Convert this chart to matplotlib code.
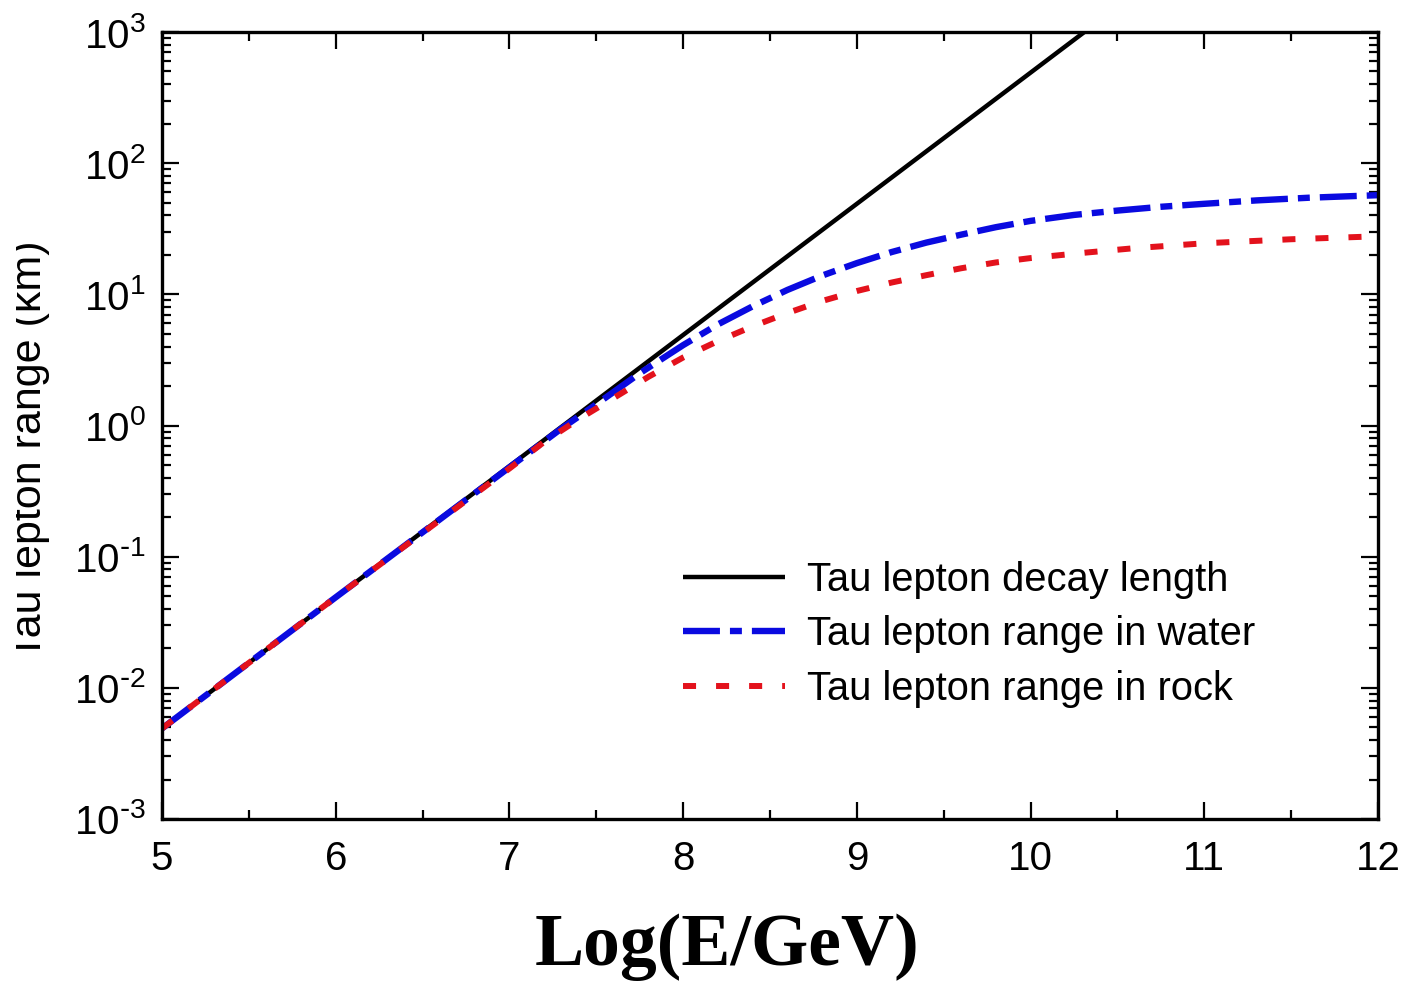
import math
import matplotlib
matplotlib.use("Agg")
import matplotlib.pyplot as plt
from matplotlib.ticker import FixedLocator, FuncFormatter, LogLocator, NullFormatter
from matplotlib.transforms import Bbox

# log10(E/GeV) and lengths in km
E_decay = [5.0, 6.0, 7.0, 8.0, 9.0, 10.0, 11.0, 12.0]
L_decay = [0.0049, 0.049, 0.49, 4.9, 49.0, 490.0, 4900.0, 49000.0]

E_water = [5.0, 6.0, 7.0, 7.3, 7.5, 7.75, 8.0, 8.2, 8.4, 8.6, 8.8, 9.0, 9.2,
           9.4, 9.6, 9.8, 10.0, 10.25, 10.5, 10.75, 11.0, 11.3, 11.6, 12.0]
R_water = [0.0049, 0.049, 0.48, 0.95, 1.45, 2.5, 4.1, 5.9, 8.1, 10.8, 13.9,
           17.3, 21.0, 24.8, 28.5, 32.5, 36.3, 40.3, 43.5, 46.5, 49.0, 52.0,
           54.5, 57.0]

E_rock = [5.0, 6.0, 7.0, 7.2, 7.4, 7.6, 7.8, 8.0, 8.2, 8.4, 8.6, 8.8, 9.0,
          9.2, 9.4, 9.6, 9.8, 10.0, 10.3, 10.6, 11.0, 11.5, 12.0]
R_rock = [0.0049, 0.049, 0.47, 0.75, 1.12, 1.62, 2.35, 3.3, 4.4, 5.7, 7.2,
          8.9, 10.6, 12.3, 14.0, 15.8, 17.5, 18.9, 20.7, 22.5, 24.5, 26.3, 27.7]

labels = ["Tau lepton decay length",
          "Tau lepton range in water",
          "Tau lepton range in rock"]
x_ticks = [5, 6, 7, 8, 9, 10, 11, 12]

plt.rcParams["font.family"] = ["Liberation Sans", "DejaVu Sans"]
plt.rcParams["mathtext.default"] = "regular"
plt.rcParams["lines.scale_dashes"] = False

W, H = 1405, 981
fig = plt.figure(figsize=(W / 100, H / 100), dpi=100)
fig.patch.set_facecolor("white")
ax = fig.add_axes([162 / W, 1 - 819 / H, (1378 - 162) / W, (819 - 32) / H])

ax.plot(E_decay, L_decay, color="black", lw=3.2, solid_capstyle="butt",
        label=labels[0])
ax.plot(E_water, R_water, color="#0a0ae0", lw=4.6,
        linestyle=(0, (26.6, 7.2, 8.6, 7.2)), dash_capstyle="butt",
        label=labels[1])
ax.plot(E_rock, R_rock, color="#e3121c", lw=4.3,
        linestyle=(0, (9.4, 14.4)), dash_capstyle="butt", label=labels[2])

ax.set_yscale("log")
ax.set_xlim(5, 12)
ax.set_ylim(1e-3, 1e3)


def pow_label(v, pos):
    e = round(math.log10(v))
    if e < 0:
        return r"$10^{\text{-}%d}$" % (-e)
    return r"$10^{%d}$" % e


ax.xaxis.set_major_locator(FixedLocator(x_ticks))
ax.xaxis.set_minor_locator(FixedLocator([v + 0.5 for v in x_ticks[:-1]]))
ax.yaxis.set_major_locator(LogLocator(base=10, numticks=20))
ax.yaxis.set_minor_locator(LogLocator(base=10, subs=range(2, 10), numticks=20))
ax.yaxis.set_minor_formatter(NullFormatter())
ax.yaxis.set_major_formatter(FuncFormatter(pow_label))
ax.xaxis.set_major_formatter(FuncFormatter(lambda v, p: "%d" % v))

ax.tick_params(which="both", direction="in", top=True, right=True,
               width=1.6, colors="black", labelsize=29)
ax.tick_params(which="major", length=12)
ax.tick_params(which="minor", length=6.5)
ax.tick_params(axis="x", which="major", pad=15)
ax.tick_params(axis="y", which="major", pad=12)
for s in ax.spines.values():
    s.set_linewidth(2.4)

leg = ax.legend(loc="upper left", bbox_to_anchor=(683 / W, 1 - 561 / H),
                bbox_transform=fig.transFigure, frameon=False, fontsize=28.7,
                handlelength=2.55, handletextpad=0.57, labelspacing=0.41,
                borderpad=0, borderaxespad=0)

fig.text(727 / W, 1 - 965 / H, "Log(E/GeV)", ha="center", va="baseline",
         fontsize=53, fontweight="bold", family=["Liberation Serif"])

# left margin trims the top of the rotated label
yl = fig.text(50 / W, 1 - 450 / H, "Tau lepton range (km)", rotation=90,
              ha="right", va="center", fontsize=31)
yl.set_clip_box(Bbox.from_extents(16, 0, W, H))
yl.set_clip_on(True)

fig.savefig("out.png", dpi=100, facecolor="white")
